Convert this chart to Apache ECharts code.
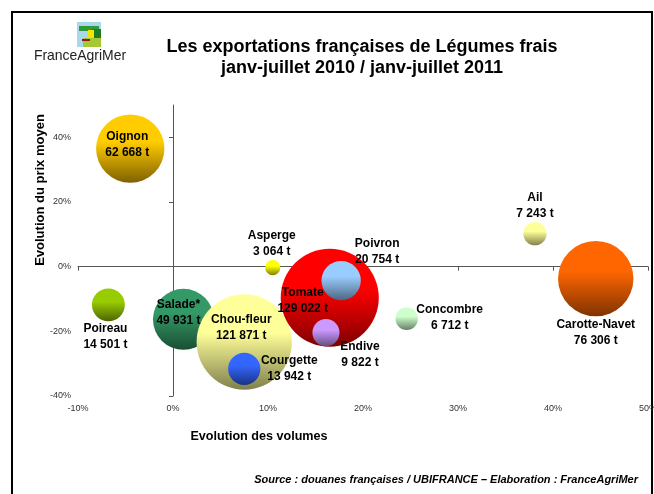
<!DOCTYPE html>
<html>
<head>
<meta charset="utf-8">
<script src="https://cdn.jsdelivr.net/npm/echarts@6/dist/echarts.min.js"></script>
<style>html,body{margin:0;padding:0;background:#fff}#chart{width:654px;height:494px}</style>
</head>
<body>
<div id="chart"></div>
<script>
// donnees
var legumes = ['Oignon', 'Carotte-Navet', 'Salade*', 'Chou-fleur', 'Tomate', 'Poireau', 'Poivron', 'Courgette', 'Endive', 'Ail', 'Concombre', 'Asperge'];
var volumes = [-4.5, 44.5, 1.1, 7.5, 16.5, -6.8, 17.7, 7.5, 16.1, 38.1, 24.6, 10.5];
var prix = [36.5, -3.7, -16.3, -23.3, -9.6, -11.8, -4.3, -31.6, -20.4, 10.2, -16.1, -0.3];
var tonnes = [62668, 76306, 49931, 121871, 129022, 14501, 20754, 13942, 9822, 7243, 6712, 3064];
var xTicks = [-10, 0, 10, 20, 30, 40, 50];
var yTicks = [-40, -20, 0, 20, 40];

// styles
var couleurs = [
	['#FFCC00', '#7F6000'], ['#FF6600', '#7F3300'], ['#339966', '#1A4D33'], ['#FFFF99', '#80804D'],
	['#FF0000', '#800000'], ['#99CC00', '#4D6600'], ['#99CCFF', '#4D6680'], ['#3366FF', '#1A3380'],
	['#CC99FF', '#664D80'], ['#FFFF99', '#80804D'], ['#CCFFCC', '#668066'], ['#FFFF00', '#808000']
];
var decalages = [[-3, -4], [0, 54], [-5, -7], [-3, -14], [-27, 3], [-3, 32], [36, -29], [45, 0], [34, 22], [0, -28], [43, -1], [-1, -24]];

function milliers(n) {
	return String(n).replace(/\B(?=(\d{3})+(?!\d))/g, ' ');
}
function degrade(c) {
	return {
		type: 'linear', x: 0, y: 0, x2: 0, y2: 1,
		colorStops: [{offset: 0, color: c[0]}, {offset: 0.4, color: c[0]}, {offset: 1, color: c[1]}]
	};
}

var myChart = echarts.init(document.getElementById('chart'));
var axisCol = '#555';
var option = {
	animation: false,
	grid: {left: 78, right: 6, top: 105, bottom: 98, outerBoundsMode: 'none'},
	xAxis: [{
		type: 'value', min: -10, max: 50, interval: 10,
		axisLine: {onZero: true, lineStyle: {color: axisCol, width: 1}},
		axisTick: {show: true, length: 4, customValues: xTicks, lineStyle: {color: axisCol}},
		axisLabel: {show: false},
		splitLine: {show: false}
	}, {
		type: 'value', position: 'bottom', min: -10, max: 50, interval: 10,
		axisLine: {show: false, onZero: false},
		axisTick: {show: false},
		axisLabel: {customValues: xTicks, formatter: '{value}%', fontSize: 9, color: '#333', margin: 8, fontFamily: 'Arial'},
		splitLine: {show: false}
	}],
	yAxis: [{
		type: 'value', position: 'left', min: -40, max: 50, interval: 20,
		axisLine: {onZero: true, lineStyle: {color: axisCol, width: 1}},
		axisTick: {show: true, length: 4, customValues: yTicks, lineStyle: {color: axisCol}},
		axisLabel: {show: false},
		splitLine: {show: false}
	}, {
		type: 'value', position: 'left', min: -40, max: 50, interval: 20,
		axisLine: {show: false, onZero: false},
		axisTick: {show: false},
		axisLabel: {customValues: yTicks, formatter: '{value}%', fontSize: 9, color: '#333', margin: 7, fontFamily: 'Arial'},
		splitLine: {show: false}
	}],
	series: [{
		type: 'scatter',
		xAxisIndex: 0,
		yAxisIndex: 0,
		symbolSize: function (v) { return 0.273 * Math.sqrt(v[2]); },
		data: legumes.map(function (n, i) {
			return {
				name: n,
				value: [volumes[i], prix[i], tonnes[i]],
				itemStyle: {color: degrade(couleurs[i]), opacity: 1},
				label: {offset: decalages[i]}
			};
		}),
		label: {
			show: true, position: 'inside',
			formatter: function (p) { return p.name + '\n' + milliers(p.value[2]) + ' t'; },
			fontSize: 12, fontWeight: 'bold', color: '#000', lineHeight: 16,
			fontFamily: 'Arial', textBorderWidth: 0
		},
		emphasis: {disabled: true}
	}],
	graphic: [
		{type: 'rect', shape: {x: 12, y: 12, width: 640, height: 500}, style: {fill: 'none', stroke: '#000', lineWidth: 2}, silent: true},
		// logo
		{type: 'rect', shape: {x: 77, y: 22, width: 24, height: 25}, style: {fill: '#A8D8EA'}},
		{type: 'rect', shape: {x: 79, y: 26, width: 20, height: 5}, style: {fill: '#2E9A3A'}},
		{type: 'rect', shape: {x: 92, y: 29, width: 9, height: 9}, style: {fill: '#1E7A2A'}},
		{type: 'rect', shape: {x: 88, y: 30, width: 6, height: 14}, style: {fill: '#F2E600'}},
		{type: 'rect', shape: {x: 83, y: 38, width: 18, height: 9}, style: {fill: '#A6C832'}},
		{type: 'rect', shape: {x: 82, y: 39, width: 8, height: 2}, style: {fill: '#8B1A1A'}},
		{type: 'text', x: 80, y: 56, scaleX: 0.93, style: {x: 0, y: 0, text: 'FranceAgriMer', font: '15px Arial', fill: '#222', align: 'center', verticalAlign: 'middle'}},
		// titre
		{type: 'text', style: {x: 362, y: 47, text: 'Les exportations françaises de Légumes frais', font: 'bold 18px Arial', fill: '#000', align: 'center', verticalAlign: 'middle'}},
		{type: 'text', style: {x: 362, y: 68, text: 'janv-juillet 2010 / janv-juillet 2011', font: 'bold 18px Arial', fill: '#000', align: 'center', verticalAlign: 'middle'}},
		// noms des axes
		{type: 'text', x: 40, y: 190, rotation: Math.PI / 2, style: {x: 0, y: 0, text: 'Evolution du prix moyen', font: 'bold 13px Arial', fill: '#000', align: 'center', verticalAlign: 'middle'}},
		{type: 'text', style: {x: 259, y: 437, text: 'Evolution des volumes', font: 'bold 12.6px Arial', fill: '#000', align: 'center', verticalAlign: 'middle'}},
		{type: 'text', style: {x: 638, y: 480, text: 'Source : douanes françaises / UBIFRANCE – Elaboration : FranceAgriMer', font: 'italic bold 11px Arial', fill: '#000', align: 'right', verticalAlign: 'middle'}}
	]
};
myChart.setOption(option);
</script>
</body>
</html>
